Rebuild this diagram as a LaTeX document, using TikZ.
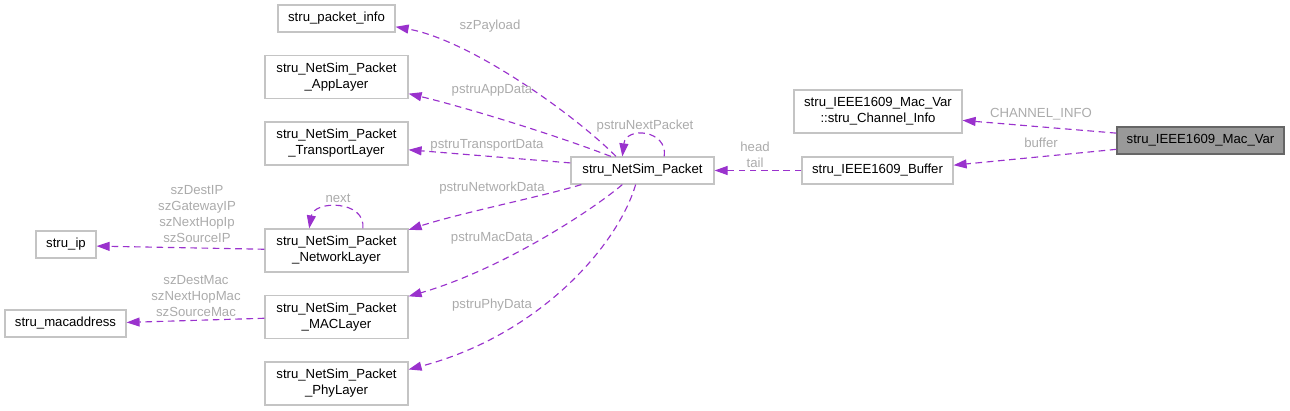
\documentclass[tikz,border=0pt]{standalone}
\usepackage{fontspec}
\setmainfont{Liberation Sans}
\usepackage{xcolor}
\usetikzlibrary{arrows.meta}
\definecolor{edgec}{HTML}{9A32CD}
\definecolor{lblc}{HTML}{ABABAB}
\definecolor{boxc}{HTML}{C4C4C4}
\definecolor{curc}{HTML}{999999}

\begin{document}
\begin{tikzpicture}[x=.02cm,y=-.02cm,
  every node/.style={font=\fontsize{7.5}{9.1}\selectfont},
  cls/.style={draw=boxc,fill=white,line width=.7pt,inner sep=0pt,align=center,minimum height=.54cm},
  cls2/.style={cls,minimum height=.86cm},
  rel/.style={draw=edgec,line width=.65pt,dash pattern=on 3.8pt off 2.6pt,-{Triangle[length=.26cm,width=.18cm]}},
  lbl/.style={text=lblc,align=center,inner sep=0pt}]
\useasboundingbox (0,0) rectangle (1290,411);
\node[cls,minimum width=2.34cm] (pinfo) at (336.5,18.5) {stru\_packet\_info};
\node[cls2,minimum width=2.86cm] (app) at (336.5,77) {stru\_NetSim\_Packet\\\_AppLayer};
\node[cls2,minimum width=2.86cm] (transport) at (336.5,143.5) {stru\_NetSim\_Packet\\\_TransportLayer};
\node[cls2,minimum width=2.86cm] (network) at (336.5,250.5) {stru\_NetSim\_Packet\\\_NetworkLayer};
\node[cls2,minimum width=2.86cm] (mac) at (336.5,317) {stru\_NetSim\_Packet\\\_MACLayer};
\node[cls2,minimum width=2.86cm] (phy) at (336.5,383.5) {stru\_NetSim\_Packet\\\_PhyLayer};
\node[cls,minimum width=1.2cm] (ip) at (66,244.5) {stru\_ip};
\node[cls,minimum width=2.42cm] (macaddr) at (65.5,323.5) {stru\_macaddress};
\node[cls,minimum width=2.86cm] (packet) at (642.5,170.5) {stru\_NetSim\_Packet};
\node[cls,minimum width=3.02cm] (buffer) at (877.5,170.5) {stru\_IEEE1609\_Buffer};
\node[cls2,minimum width=3.36cm] (chan) at (878,111.5) {stru\_IEEE1609\_Mac\_Var\\::stru\_Channel\_Info};
\node[cls,minimum width=3.34cm,fill=curc,draw=black!60] (macvar) at (1200.5,140.5) {stru\_IEEE1609\_Mac\_Var};

\draw[rel] (macvar.175) -- (chan.354);
\draw[rel] (macvar.186) -- (buffer.4);
\draw[rel] (buffer) -- (packet);
\draw[rel] (packet.152) .. controls (575,115) and (470,40) .. (pinfo.352);
\draw[rel] (packet.156) .. controls (550,133) and (460,106) .. (app.347);
\draw[rel] (packet.174) -- (transport.355);
\draw[rel] (packet.193) .. controls (540,197) and (460,213) .. (network.16);
\draw[rel] (packet.215) .. controls (590,212) and (500,270) .. (mac.16);
\draw[rel] (packet.244) .. controls (618,245) and (540,335) .. (phy.11);
\draw[rel] (packet.33) .. controls (668,130) and (626,126) .. (packet.145);
\draw[rel] (network.40) .. controls (366,200) and (314,200) .. (network.141);
\draw[rel] (network.179) -- (ip.357);
\draw[rel] (mac.181) -- (macaddr.1);

\node[lbl] (lchan) at (1041,114) {CHANNEL\_INFO};
\node[lbl] (lbuf) at (1041,143) {buffer};
\node[lbl] (lht) at (755,155) {head\\tail};
\node[lbl] (lpay) at (490,26) {szPayload};
\node[lbl] (lapp) at (492,90) {pstruAppData};
\node[lbl] (ltrans) at (487,145) {pstruTransportData};
\node[lbl] (lnet) at (492,188) {pstruNetworkData};
\node[lbl] (lmac) at (492,238) {pstruMacData};
\node[lbl] (lphy) at (492,305) {pstruPhyData};
\node[lbl] (lnext) at (645,126) {pstruNextPacket};
\node[lbl] (lnxt) at (338,198) {next};
\node[lbl] (lip) at (197,214) {szDestIP\\szGatewayIP\\szNextHopIp\\szSourceIP};
\node[lbl] (lma) at (196,296) {szDestMac\\szNextHopMac\\szSourceMac};
\end{tikzpicture}
\end{document}
